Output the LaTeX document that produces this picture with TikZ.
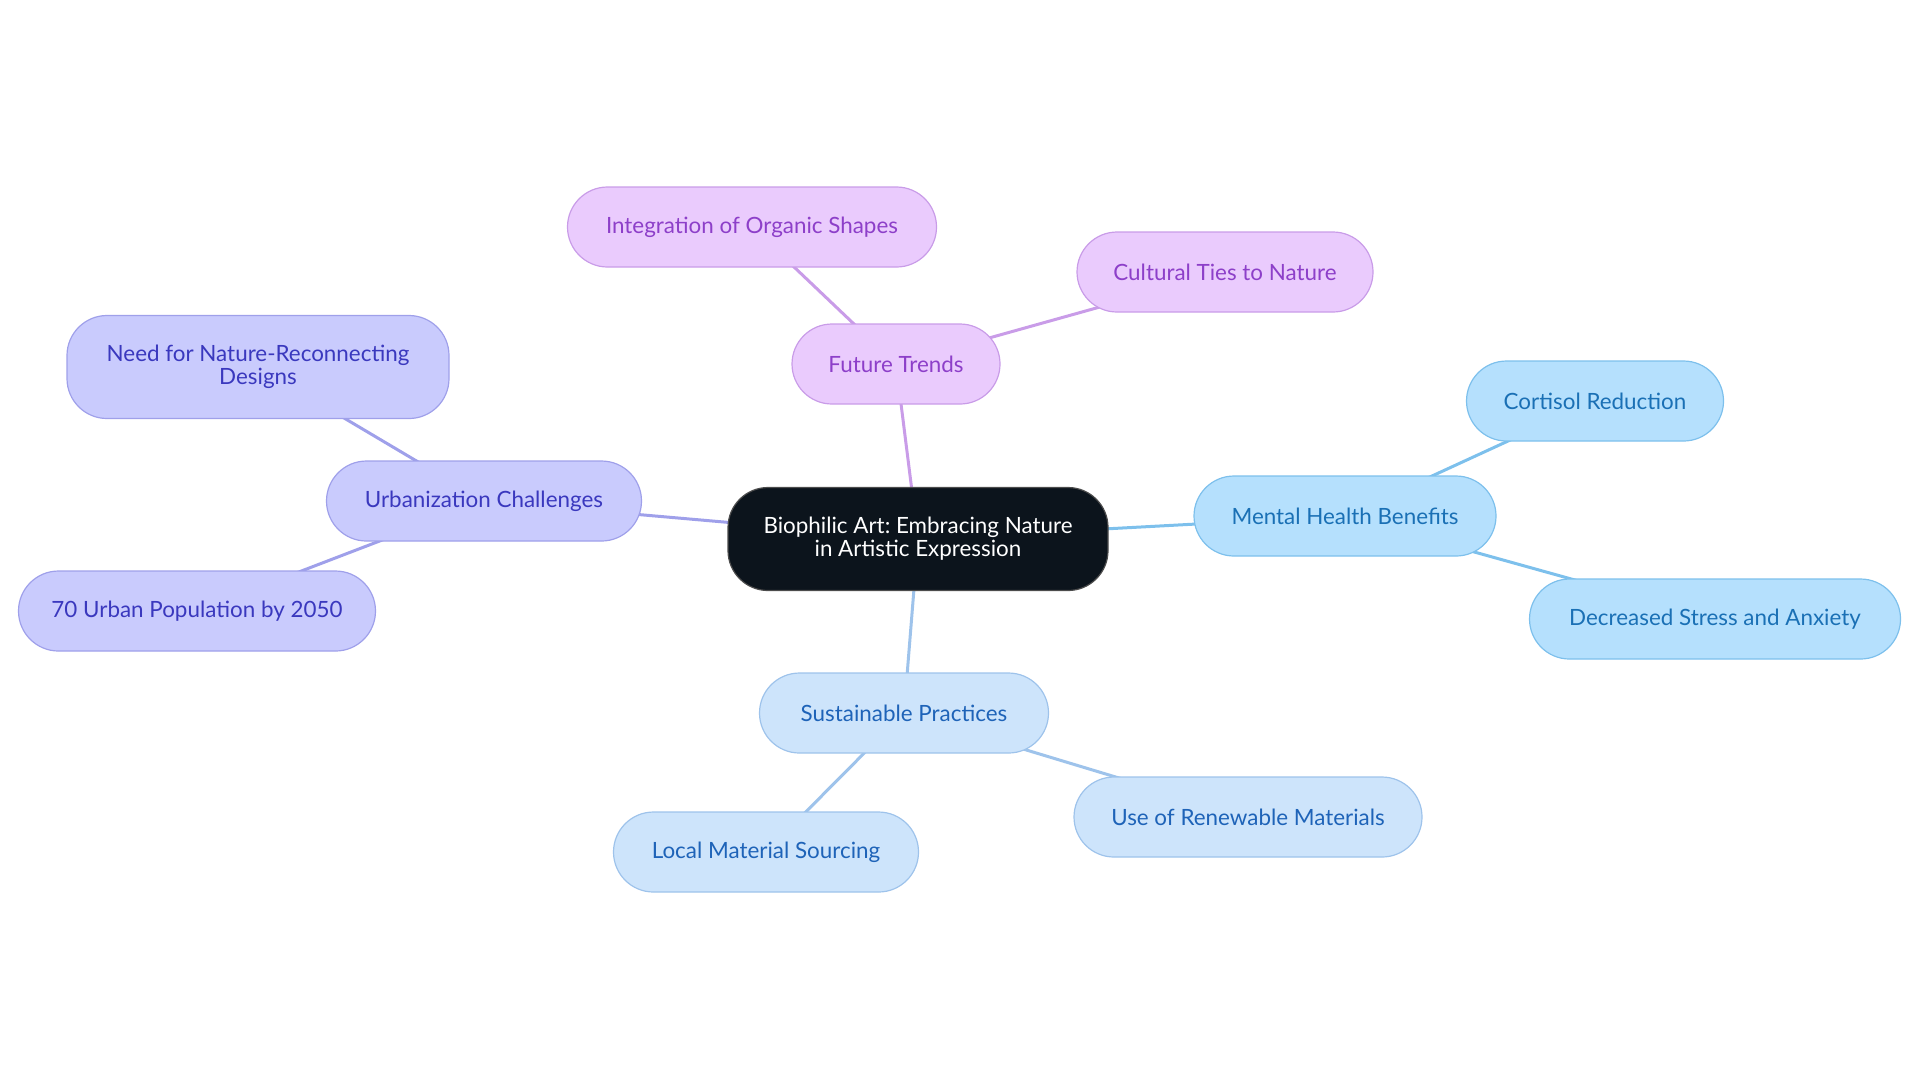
\documentclass[tikz,border=0pt]{standalone}
\usepackage{fontspec}
\setmainfont{Lato}
\usetikzlibrary{backgrounds}
\frenchspacing

\definecolor{rootfill}{HTML}{0C141C}
\definecolor{purfill}{HTML}{EACBFD}
\definecolor{purline}{HTML}{C99CE8}
\definecolor{purtext}{HTML}{8D3FC9}
\definecolor{indfill}{HTML}{C9CBFD}
\definecolor{indline}{HTML}{9FA0EA}
\definecolor{indtext}{HTML}{3A38BE}
\definecolor{skyfill}{HTML}{B5E0FD}
\definecolor{skyline}{HTML}{7DC0EC}
\definecolor{skytext}{HTML}{1A70B5}
\definecolor{palefill}{HTML}{CDE4FB}
\definecolor{paleline}{HTML}{9EC3EB}
\definecolor{paletext}{HTML}{1E63B8}

\tikzset{
    pill/.style={draw, rounded corners=20pt, align=center, inner sep=0pt,
        font=\fontsize{11.2}{11.5}\selectfont, line width=0.6pt,
        minimum height=40pt},
    rootbox/.style={pill, fill=rootfill, draw=gray!60!black, text=white,
        minimum width=190pt, minimum height=51.5pt},
    purbox/.style={pill, fill=purfill, draw=purline, text=purtext},
    indbox/.style={pill, fill=indfill, draw=indline, text=indtext},
    skybox/.style={pill, fill=skyfill, draw=skyline, text=skytext},
    palebox/.style={pill, fill=palefill, draw=paleline, text=paletext},
    link/.style={line width=1.5pt},
}

\begin{document}
\begin{tikzpicture}[x=0.5pt,y=-0.5pt]
        \useasboundingbox (0,0) rectangle (1920,1083);
        %% root
        \node[rootbox] (root) at (918,539)
            {Biophilic Art: Embracing Nature\\in Artistic Expression};
        %% future trends
        \node[purbox, minimum width=104pt] (trends) at (896,364) {Future Trends};
        \node[purbox, minimum width=184.5pt] (organic) at (752,227) {Integration of Organic Shapes};
        \node[purbox, minimum width=148pt] (cultural) at (1225,272) {Cultural Ties to Nature};
        %% urbanization
        \node[indbox, minimum width=157.5pt] (urban) at (484,501) {Urbanization Challenges};
        \node[indbox, minimum width=191pt, minimum height=51.5pt] (reconnect) at (258,367)
            {Need for Nature-Reconnecting\\Designs};
        \node[indbox, minimum width=178.5pt] (population) at (197,611) {70 Urban Population by 2050};
        %% mental health
        \node[skybox, minimum width=151pt] (mental) at (1345,516) {Mental Health Benefits};
        \node[skybox, minimum width=128.5pt] (cortisol) at (1595,401) {Cortisol Reduction};
        \node[skybox, minimum width=185.5pt] (stress) at (1715,619) {Decreased Stress and Anxiety};
        %% sustainable practices
        \node[palebox, minimum width=144.5pt] (sustain) at (904,713) {Sustainable Practices};
        \node[palebox, minimum width=152.5pt] (local) at (766,852) {Local Material Sourcing};
        \node[palebox, minimum width=174pt] (renew) at (1248,817) {Use of Renewable Materials};
        %% links behind the boxes
        \begin{scope}[on background layer]
            \draw[link, purline] (root.center) -- (trends.center);
            \draw[link, purline] (trends.center) -- (organic.center);
            \draw[link, purline] (trends.center) -- (cultural.center);
            \draw[link, indline] (root.center) -- (urban.center);
            \draw[link, indline] (urban.center) -- (reconnect.center);
            \draw[link, indline] (urban.center) -- (population.center);
            \draw[link, skyline] (root.center) -- (mental.center);
            \draw[link, skyline] (mental.center) -- (cortisol.center);
            \draw[link, skyline] (mental.center) -- (stress.center);
            \draw[link, paleline] (root.center) -- (sustain.center);
            \draw[link, paleline] (sustain.center) -- (local.center);
            \draw[link, paleline] (sustain.center) -- (renew.center);
        \end{scope}
    \end{tikzpicture}
\end{document}
